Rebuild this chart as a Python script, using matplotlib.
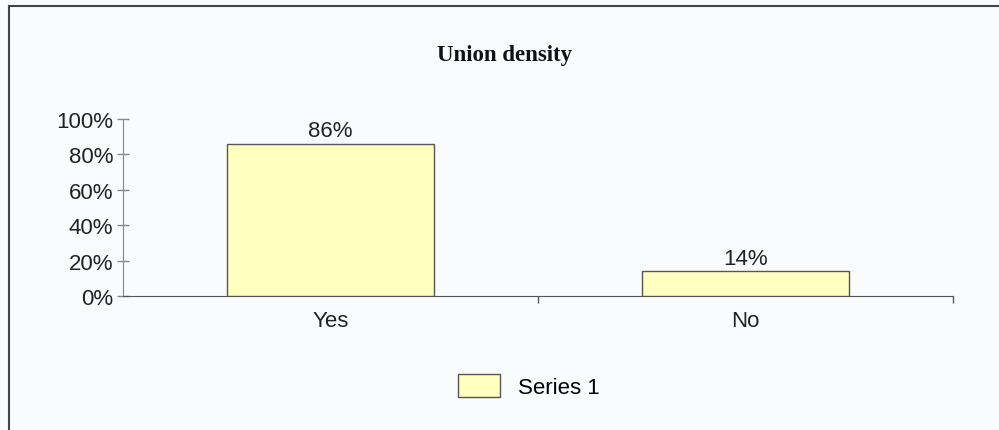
import matplotlib.pyplot as plt
from matplotlib.lines import Line2D
from matplotlib.patches import Patch
from matplotlib.ticker import FuncFormatter

categories = ["Yes", "No"]
values = [86, 14]
series_name = "Series 1"
yticks = [0, 20, 40, 60, 80, 100]
title = "Union density"

bg = "#f9fbfc"
bar_color = "#ffffc0"
edge = "#555555"
fs = 16

fig = plt.figure(figsize=(9.99, 4.31), dpi=100, facecolor=bg)
ax = fig.add_axes([123/999, 1-297/431, (953-123)/999, (297-120)/431])
ax.set_facecolor(bg)

x = list(range(len(categories)))
bars = ax.bar(x, values, width=0.5, color=bar_color, edgecolor=edge, linewidth=1.0, zorder=3)
for b, v in zip(bars, values):
    ax.text(b.get_x() + b.get_width()/2, v + 1.5, f"{v}%", ha="center", va="bottom",
            fontsize=fs, family="Liberation Sans", color="#222222")

ax.set_xlim(-0.5, len(categories) - 0.5)
ax.set_ylim(0, 100)
ax.set_yticks(yticks)
ax.yaxis.set_major_formatter(FuncFormatter(lambda v, p: f"{int(v)}%"))
ax.set_xticks([i + 0.5 for i in range(len(categories))][:-1] + [len(categories) - 0.5])
ax.set_xticklabels([])
ax.set_xticks(x, minor=True)
ax.set_xticklabels(categories, minor=True)
ax.tick_params(axis="x", which="minor", length=0, pad=10, labelsize=fs, labelcolor="#222222")
ax.tick_params(axis="x", which="major", direction="out", length=5, width=1, color="#555555")
ax.tick_params(axis="y", direction="inout", length=8, width=1, color="#888888",
               labelsize=fs, labelcolor="#222222", pad=3)
for lbl in ax.get_xticklabels(minor=True) + ax.get_yticklabels():
    lbl.set_family("Liberation Sans")

for s in ["top", "right"]:
    ax.spines[s].set_visible(False)
ax.spines["left"].set_color("#888888")
ax.spines["bottom"].set_color("#555555")

fig.text(505/999, 1-55/431, title, ha="center", va="center", fontsize=16.5,
         fontweight="bold", family="Liberation Serif", color="#111111")

# outer border (left and top)
fig.add_artist(Line2D([9/999, 9/999], [0, 1-7/431], transform=fig.transFigure, color="#444444", lw=1.5))
fig.add_artist(Line2D([9/999, 1], [1-7/431, 1-7/431], transform=fig.transFigure, color="#444444", lw=1.5))

fig.legend(handles=[Patch(facecolor=bar_color, edgecolor=edge, label=series_name)],
           loc="center", bbox_to_anchor=(529/999, 1-387/431), frameon=False,
           prop={"family": "Liberation Sans", "size": fs}, handlelength=1.9, handleheight=1.2,
           handletextpad=0.8)

fig.savefig("out.png", dpi=100, facecolor=bg)
